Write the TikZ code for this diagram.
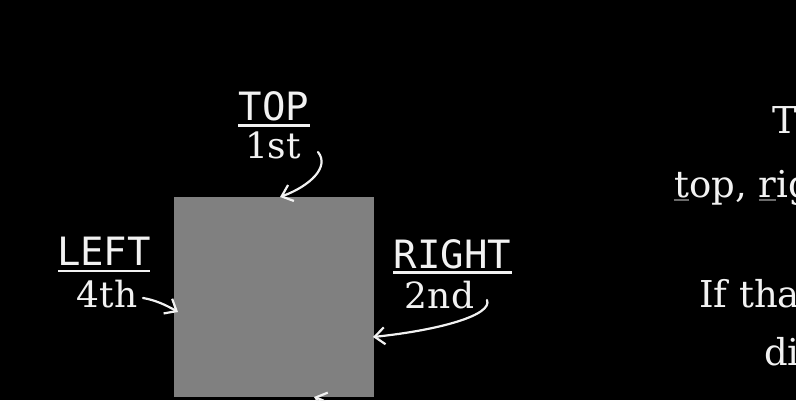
\documentclass[tikz,border=0pt]{standalone}
\usepackage{fontspec}
\setmainfont{DejaVu Serif}
\newfontfamily\labmono{DejaVu Sans Mono}
\usetikzlibrary{arrows.meta}
\definecolor{ulgray}{HTML}{6A6A6A}
\definecolor{ink}{HTML}{F2F2F2}
\newcommand\gul[1]{\setbox0\hbox{#1}\rlap{\textcolor{ulgray}{\rule[-4pt]{\wd0}{2pt}}}#1}
\tikzset{
  side/.style={text=ink, inner sep=0pt, anchor=base, font=\labmono\fontsize{39}{44}\selectfont},
  ord/.style={text=ink, inner sep=0pt, anchor=base, font=\fontsize{36}{40}\selectfont},
  body/.style={text=ink, inner sep=0pt, anchor=base west, font=\fontsize{37}{42}\selectfont},
  bar/.style={draw=ink, line width=2.4pt},
  curvy/.style={draw=ink, line width=2.2pt, line cap=round, line join=round,
    -{Straight Barb[length=10pt,width=17pt,line width=2.2pt]}},
  sq/.style={fill=gray, draw=none, minimum size=200pt, inner sep=0pt}
}
\begin{document}
\begin{tikzpicture}[x=1pt,y=-1pt]
\fill[black] (0,0) rectangle (796,400);
\useasboundingbox (0,0) rectangle (796,400);
\clip (0,0) rectangle (796,400);

\node[sq] (box) at (274,297) {};

% labels
\node[side] (top) at (274,120) {TOP};
\draw[bar] (238,125.5) -- (310,125.5);
\node[ord] (first) at (273,158) {1st};

\node[side] (left) at (104,265) {LEFT};
\draw[bar] (58,271) -- (150,271);
\node[ord] (fourth) at (107,307) {4th};

\node[side] (right) at (452.5,268) {RIGHT};
\draw[bar] (393,272.5) -- (512,272.5);
\node[ord] (second) at (439.5,308) {2nd};

% arrow ends
\coordinate (ta) at (318,152);
\coordinate (tb) at (280,197);
\coordinate (la) at (143,298);
\coordinate (lb) at (178,312);
\coordinate (ra) at (487,300);
\coordinate (rb) at (373,337);
\coordinate (ba) at (352,440);
\coordinate (bb) at (314,397);

\draw[curvy] (ta) .. controls (330,167) and (310,186) .. (tb);
\draw[curvy] (la) .. controls (155,300) and (166,305) .. (lb);
\draw[curvy] (ra) .. controls (493,315) and (440,330) .. (rb);
\draw[curvy] (ba) .. controls (346,415) and (332,403) .. (bb);

% text on the right
\node[body] (l1) at (772,133) {T};
\node[body] (l2) at (674,197) {\gul{t}op, \gul{r}ig};
\node[body] (l3) at (699,307) {If tha};
\node[body] (l4) at (764,365) {di};
\end{tikzpicture}
\end{document}
